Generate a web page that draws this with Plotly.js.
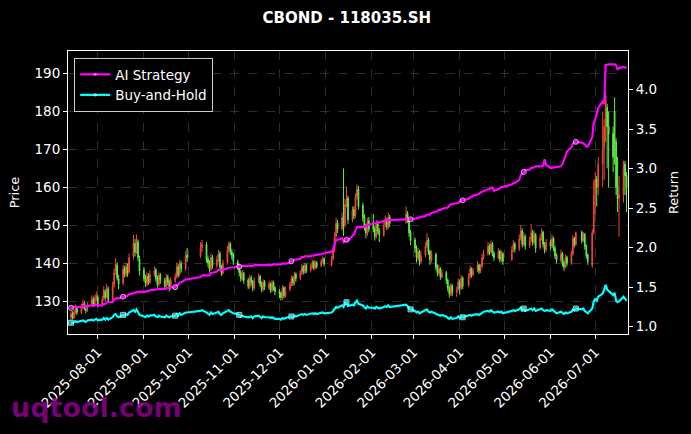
<!DOCTYPE html>
<html>
<head>
<meta charset="utf-8">
<script src="https://cdn.plot.ly/plotly-3.0.1.min.js"></script>
<style>html,body{margin:0;padding:0;background:#000;}#chart{width:691px;height:434px;}</style>
</head>
<body>
<div id="chart"></div>
<script>
// ---- data ----
const startDate = '2025-07-14';
const endDate = '2026-07-22';
const holidays = ['2025-10-01','2025-10-02','2025-10-03','2025-10-06','2025-10-07','2025-10-08',
  '2026-01-01','2026-01-02','2026-02-16','2026-02-17','2026-02-18','2026-02-19','2026-02-20','2026-02-23',
  '2026-04-06','2026-05-01','2026-05-04','2026-05-05','2026-06-19'];

const openP = [
125.8,126.8,125.6,127.0,128.3,127.0,128.4,129.5,128.0,127.8,129.2,130.6,129.0,130.5,
131.2,129.2,130.8,132.6,131.2,133.2,130.5,134.2,137.8,139.5,136.0,134.8,138.6,137.0,139.2,137.8,141.8,145.2,143.2,145.6,141.2,
138.2,136.2,134.6,136.8,135.0,137.2,138.2,136.2,134.4,137.0,135.6,133.8,136.4,135.2,133.6,135.4,136.6,139.2,137.2,140.0,138.6,142.2,
142.0,144.2,145.0,141.2,140.2,138.4,141.6,139.4,141.2,142.6,139.0,137.4,140.2,143.6,145.2,143.0,142.2,
140.4,139.2,137.6,135.8,137.4,135.6,133.8,136.2,135.2,133.4,135.4,136.6,134.6,133.0,135.2,133.6,134.6,132.8,135.0,133.6,
132.6,132.2,130.8,133.6,131.4,133.2,134.4,136.2,134.6,137.2,136.0,137.6,139.2,137.6,139.6,138.2,139.0,140.4,138.8,140.2,139.4,140.6,141.2,
139.6,141.2,143.6,147.2,150.6,149.2,152.4,150.2,155.6,157.2,151.4,154.2,152.6,157.6,159.6,155.2,152.2,149.6,147.8,151.2,
150.8,149.2,147.2,150.6,148.6,147.4,150.2,151.6,149.4,152.2,151.0,153.2,151.6,148.2,
146.2,144.2,141.4,143.2,140.4,142.2,144.6,146.2,143.2,140.8,142.4,139.2,137.4,138.6,136.4,137.6,135.6,133.6,131.8,134.2,132.4,133.2,
135.2,133.4,136.2,134.2,136.6,138.6,137.0,138.2,139.6,138.0,139.2,141.6,142.6,144.6,143.0,145.2,142.6,141.4,143.2,140.8,142.6,
141.0,143.6,145.2,143.8,146.6,148.6,145.0,147.2,144.6,146.2,148.2,145.4,147.6,144.2,146.6,148.2,145.0,143.6,
145.6,144.6,146.6,144.0,142.2,140.8,142.6,140.2,139.0,141.6,140.0,142.6,146.6,145.0,148.2,146.0,147.6,144.6,142.2,139.4,148.2,
158.2,162.2,160.2,166.2,170.2,176.2,181.0,176.2,174.2,180.0,172.0,160.2,157.2,158.2,166.2,163.2];

const highP = [
127.5,127.4,128.0,129.2,128.8,129.4,130.5,130.1,128.9,129.8,131.6,131.2,131.8,132.6,
131.8,131.4,134.0,133.2,134.6,133.9,135.2,138.6,141.4,140.2,137.0,139.6,139.4,140.2,140.0,142.6,147.5,146.4,147.6,146.3,142.0,
139.0,137.0,137.6,137.4,138.2,139.2,138.8,136.8,137.6,137.5,136.2,137.2,137.0,135.8,136.4,137.4,140.2,139.8,141.0,140.6,143.2,144.0,
145.6,146.2,145.6,142.0,140.8,142.6,142.2,142.0,143.6,143.2,139.6,141.0,144.6,145.8,145.6,143.8,142.8,
141.0,139.8,138.2,138.2,137.8,136.2,137.0,136.8,135.6,136.4,137.4,137.0,135.2,135.8,135.6,135.4,135.0,135.6,135.4,134.0,
133.2,132.6,134.2,134.0,133.8,135.2,136.8,136.6,137.8,137.6,138.2,139.8,139.6,140.2,140.0,139.8,141.0,140.8,140.8,140.6,141.2,141.8,141.6,
142.0,144.4,148.2,152.0,151.4,153.4,165.0,157.0,160.2,157.8,155.0,155.0,158.4,160.8,160.4,156.0,153.0,150.4,152.0,152.2,
153.0,149.8,151.4,151.2,149.2,151.0,152.6,152.0,153.4,152.8,155.0,153.8,152.0,148.8,
146.8,144.8,144.0,143.6,143.2,145.6,148.0,146.8,143.6,143.4,142.8,139.8,139.6,139.0,138.4,138.0,136.0,134.2,134.8,134.6,133.8,136.0,
135.8,137.0,136.6,137.4,139.4,139.0,138.8,140.6,140.0,139.8,142.6,143.6,145.6,145.2,146.0,145.6,143.2,144.0,143.6,143.4,143.0,
144.6,146.2,145.6,147.6,150.0,149.2,148.2,147.6,147.0,150.4,148.8,148.6,148.0,147.6,149.2,148.6,145.6,146.4,
146.2,147.6,147.0,144.6,142.6,143.6,143.0,140.8,142.4,142.0,143.4,147.4,147.0,148.4,148.6,148.2,148.0,145.0,142.6,149.0,162.0,
164.0,163.0,168.0,180.0,178.0,185.0,182.0,180.0,176.0,183.7,173.0,168.0,163.0,167.0,167.0,164.0];

const lowP = [
124.9,125.2,125.3,126.5,126.4,126.6,127.9,127.6,126.8,127.2,128.7,128.5,128.6,129.9,
128.4,128.6,130.2,130.1,130.8,129.5,130.0,133.6,137.0,135.5,133.2,134.2,136.3,136.5,136.4,137.2,141.0,141.8,142.5,140.6,136.8,
135.2,133.8,134.0,134.3,134.6,136.5,135.2,133.6,133.9,134.6,133.1,133.4,134.2,132.6,133.0,134.8,136.0,136.2,136.6,137.6,138.0,140.4,
141.4,143.0,140.2,139.0,137.6,138.0,138.6,138.8,140.4,138.2,136.6,137.0,139.6,142.8,142.2,141.0,139.6,
138.2,136.6,135.2,135.4,134.6,133.2,133.4,134.2,132.6,133.0,134.8,133.8,132.4,132.6,133.0,133.0,132.2,132.4,132.8,131.6,
130.8,130.2,130.4,130.8,131.0,132.6,134.0,134.0,134.2,135.2,135.6,137.0,137.0,137.2,137.4,137.6,138.6,138.2,138.4,138.6,139.0,140.0,139.2,
139.2,140.8,143.0,146.6,148.0,148.6,147.2,149.4,154.8,150.4,150.8,151.6,152.0,156.8,154.2,151.0,148.6,146.6,147.2,148.2,
148.2,146.0,146.6,147.6,145.6,147.0,149.6,148.8,149.0,149.6,150.4,150.6,147.0,144.8,
142.8,140.2,140.8,139.4,139.8,141.6,144.0,142.2,139.6,140.2,138.2,136.6,137.0,135.6,136.0,134.6,132.6,131.0,131.4,131.4,131.2,132.8,
131.8,133.0,133.2,133.8,136.0,136.2,136.6,137.6,137.2,137.4,138.8,141.0,142.0,142.2,142.6,141.8,140.6,141.0,140.2,140.4,139.6,
140.6,143.0,142.8,143.2,146.0,144.2,144.6,143.6,144.0,145.6,144.6,145.0,142.8,143.6,146.0,144.2,142.6,143.0,
143.6,144.0,143.2,141.2,140.0,140.2,139.2,138.0,138.6,139.2,139.6,142.0,144.2,144.6,145.2,145.6,143.6,141.2,139.6,138.8,147.6,
153.0,155.0,158.0,160.0,162.0,172.0,165.0,160.0,164.0,166.0,158.0,153.5,147.0,156.0,158.0,153.5];

const closeP = [
126.5,125.8,127.2,128.0,127.1,128.5,129.3,128.2,127.6,129.0,130.4,129.1,130.8,131.5,
129.0,130.5,132.8,131.0,133.5,130.2,134.0,137.5,139.8,136.2,134.5,138.5,137.2,139.0,137.5,141.5,145.5,143.0,146.0,141.5,138.0,
136.0,134.8,136.5,135.2,137.0,138.0,136.0,134.5,136.8,135.5,134.0,136.2,135.0,133.8,135.5,136.5,139.0,137.0,139.8,138.5,142.0,141.5,
144.0,145.0,141.0,140.0,138.5,141.5,139.5,141.0,142.5,139.0,137.5,140.0,143.5,145.0,143.0,142.0,140.5,
139.0,137.5,136.0,137.2,135.5,134.0,136.0,135.0,133.5,135.5,136.5,134.5,133.2,135.0,133.8,134.5,133.0,134.8,133.5,132.5,
132.0,131.0,133.5,131.5,133.0,134.5,136.0,134.8,137.0,136.0,137.5,139.0,137.8,139.5,138.0,139.0,140.2,138.8,140.0,139.2,140.5,141.0,139.8,
141.0,143.5,147.0,150.5,149.0,152.0,150.0,155.5,157.0,151.5,154.0,152.5,157.5,159.5,155.0,152.0,149.5,148.0,151.0,149.0,
149.0,147.0,150.5,148.5,147.5,150.0,151.5,149.5,152.0,150.5,153.0,151.5,148.0,146.0,
144.0,141.5,143.0,140.5,142.0,144.5,146.0,143.0,141.0,142.5,139.0,137.5,138.5,136.5,137.5,135.5,133.5,132.0,134.0,132.5,133.0,135.0,
133.5,136.0,134.0,136.5,138.5,137.0,138.0,139.5,138.0,139.0,141.5,142.5,144.5,143.0,145.0,142.5,141.5,143.0,141.0,142.5,140.5,
143.5,145.0,143.8,146.5,148.5,145.0,147.0,144.5,146.0,148.0,145.5,147.5,144.0,146.5,148.0,145.0,143.5,145.5,
144.5,146.5,144.0,142.0,140.8,142.5,140.0,139.0,141.5,140.0,142.5,146.5,145.0,148.0,146.0,147.5,144.5,142.0,140.5,148.0,158.0,
162.0,160.0,166.0,170.0,176.0,184.0,176.0,174.0,168.0,172.0,160.0,157.0,158.0,166.0,163.0,160.0];

const aiReturn = [
1.24,1.24,1.25,1.26,1.25,1.25,1.26,1.26,1.26,1.26,1.27,1.27,1.27,1.28,
1.27,1.27,1.29,1.29,1.31,1.31,1.31,1.34,1.36,1.36,1.36,1.38,1.38,1.39,1.39,1.41,1.43,1.43,1.44,1.44,1.44,
1.44,1.44,1.45,1.45,1.46,1.47,1.47,1.47,1.48,1.48,1.48,1.49,1.49,1.49,1.50,1.50,1.53,1.53,1.56,1.56,1.60,1.60,
1.63,1.65,1.65,1.65,1.65,1.68,1.68,1.70,1.72,1.72,1.72,1.72,1.74,1.75,1.75,1.75,1.75,
1.76,1.76,1.76,1.77,1.77,1.77,1.77,1.77,1.77,1.78,1.78,1.78,1.78,1.78,1.78,1.78,1.78,1.78,1.79,1.79,
1.79,1.79,1.80,1.80,1.80,1.81,1.83,1.83,1.85,1.85,1.86,1.88,1.88,1.89,1.89,1.89,1.90,1.90,1.91,1.91,1.92,1.93,1.93,
1.95,1.98,2.04,2.10,2.10,2.12,2.07,2.08,2.10,2.09,2.16,2.17,2.22,2.26,2.26,2.26,2.27,2.27,2.29,2.29,
2.31,2.31,2.31,2.32,2.32,2.34,2.35,2.35,2.35,2.35,2.36,2.36,2.36,2.36,
2.37,2.37,2.38,2.38,2.39,2.40,2.42,2.42,2.42,2.44,2.46,2.46,2.48,2.48,2.49,2.51,2.51,2.53,2.55,2.55,2.56,2.57,
2.58,2.60,2.60,2.62,2.64,2.64,2.66,2.68,2.68,2.70,2.71,2.72,2.74,2.74,2.76,2.76,2.72,2.74,2.76,2.77,2.77,
2.80,2.82,2.82,2.86,2.92,2.94,2.96,2.98,2.99,3.01,3.01,3.02,3.03,3.03,3.03,3.04,3.12,3.05,
3.01,3.01,3.02,3.02,3.02,3.03,3.06,3.10,3.16,3.22,3.27,3.32,3.33,3.34,3.33,3.32,3.31,3.28,3.28,3.40,3.58,
3.62,3.68,3.77,3.85,3.82,4.31,4.32,4.32,4.32,4.32,4.31,4.26,4.27,4.29,4.28,4.28];

const holdReturn = [
1.05,1.05,1.06,1.07,1.06,1.07,1.08,1.07,1.06,1.08,1.09,1.08,1.09,1.10,
1.08,1.09,1.11,1.09,1.11,1.09,1.12,1.15,1.16,1.13,1.12,1.15,1.14,1.16,1.15,1.18,1.21,1.19,1.22,1.18,1.15,
1.13,1.12,1.14,1.13,1.14,1.15,1.13,1.12,1.14,1.13,1.12,1.14,1.13,1.12,1.13,1.14,1.16,1.14,1.17,1.15,1.18,1.18,
1.20,1.21,1.18,1.17,1.15,1.18,1.16,1.18,1.19,1.16,1.15,1.17,1.20,1.21,1.19,1.18,1.17,
1.16,1.15,1.13,1.14,1.13,1.12,1.13,1.13,1.11,1.13,1.14,1.12,1.11,1.13,1.12,1.12,1.11,1.12,1.11,1.10,
1.10,1.09,1.11,1.10,1.11,1.12,1.13,1.12,1.14,1.13,1.15,1.16,1.15,1.16,1.15,1.16,1.17,1.16,1.17,1.16,1.17,1.18,1.17,
1.18,1.20,1.23,1.25,1.24,1.27,1.25,1.30,1.31,1.26,1.28,1.27,1.31,1.33,1.29,1.27,1.25,1.23,1.26,1.24,
1.24,1.23,1.25,1.24,1.23,1.25,1.26,1.25,1.27,1.25,1.28,1.26,1.23,1.22,
1.20,1.18,1.19,1.17,1.18,1.20,1.22,1.19,1.18,1.19,1.16,1.15,1.15,1.14,1.15,1.13,1.11,1.10,1.12,1.10,1.11,1.13,
1.11,1.13,1.12,1.14,1.15,1.14,1.15,1.16,1.15,1.16,1.18,1.19,1.20,1.19,1.21,1.19,1.18,1.19,1.18,1.19,1.17,
1.20,1.21,1.20,1.22,1.24,1.21,1.23,1.20,1.22,1.23,1.21,1.23,1.20,1.22,1.23,1.21,1.20,1.21,
1.20,1.22,1.20,1.18,1.17,1.19,1.17,1.16,1.18,1.17,1.19,1.22,1.21,1.23,1.22,1.23,1.20,1.18,1.17,1.23,1.32,
1.35,1.33,1.38,1.42,1.47,1.53,1.47,1.45,1.40,1.43,1.33,1.31,1.32,1.38,1.36,1.33];

const monthTicks = ['2025-08-01','2025-09-01','2025-10-01','2025-11-01','2025-12-01','2026-01-01',
  '2026-02-01','2026-03-01','2026-04-01','2026-05-01','2026-06-01','2026-07-01'];
const returnTicks = [1.0,1.5,2.0,2.5,3.0,3.5,4.0];

// ---- trading calendar (weekdays minus exchange holidays) ----
function tradingDays(a, b, skip) {
  const out = [];
  const hs = new Set(skip);
  let t = Date.parse(a + 'T00:00:00Z');
  const e = Date.parse(b + 'T00:00:00Z');
  while (t <= e) {
    const d = new Date(t);
    const wd = d.getUTCDay();
    const s = d.toISOString().slice(0, 10);
    if (wd !== 0 && wd !== 6 && !hs.has(s)) out.push(s);
    t += 86400000;
  }
  return out;
}
const dates = tradingDays(startDate, endDate, holidays);

const markerSizes = dates.map((_, i) => (i % 25 === 0 ? 5 : 0));
const FONT = 'DejaVu Sans, sans-serif';

const traces = [
  {
    type: 'candlestick', x: dates, open: openP, high: highP, low: lowP, close: closeP,
    xaxis: 'x', yaxis: 'y', showlegend: false, hoverinfo: 'skip',
    increasing: {line: {color: '#f2473a', width: 1}, fillcolor: '#f2473a'},
    decreasing: {line: {color: '#5cf040', width: 1}, fillcolor: '#5cf040'},
    whiskerwidth: 0
  },
  {
    type: 'scatter', mode: 'lines+markers', name: 'AI Strategy', x: dates, y: aiReturn,
    yaxis: 'y2', line: {color: '#ff00ff', width: 2.2},
    marker: {symbol: 'circle', size: markerSizes, color: '#ff00ff'}
  },
  {
    type: 'scatter', mode: 'lines+markers', name: 'Buy-and-Hold', x: dates, y: holdReturn,
    yaxis: 'y2', line: {color: '#00ffff', width: 2.2},
    marker: {symbol: 'square', size: markerSizes, color: '#00ffff'}
  }
];

const axisCommon = {
  showline: true, linecolor: '#ffffff', linewidth: 1, mirror: true,
  ticks: 'outside', ticklen: 4, tickcolor: '#ffffff', tickwidth: 1,
  tickfont: {family: FONT, size: 13.5, color: '#ffffff'},
  zeroline: false
};

const layout = {
  width: 691, height: 434,
  paper_bgcolor: '#000000', plot_bgcolor: '#000000',
  margin: {l: 68, r: 63, t: 51, b: 100, pad: 0},
  font: {family: FONT, color: '#ffffff'},
  title: {text: '<b>CBOND - 118035.SH</b>', x: 0.502, xref: 'container', xanchor: 'center',
    y: 0.958, yref: 'container', yanchor: 'middle', font: {family: FONT, size: 15, color: '#ffffff'}},
  showlegend: true,
  legend: {x: 0.011, y: 0.975, xanchor: 'left', yanchor: 'top', bgcolor: 'rgba(0,0,0,0.85)',
    bordercolor: '#cccccc', borderwidth: 1, font: {family: FONT, size: 13.5, color: '#ffffff'},
    tracegroupgap: 0, itemwidth: 30},
  xaxis: Object.assign({}, axisCommon, {
    type: 'date', range: ['2025-07-12', '2026-07-23'],
    tickmode: 'array', tickvals: monthTicks, ticktext: monthTicks, tickangle: -45,
    showgrid: true, gridcolor: '#4a4a4a', griddash: 'dash', gridwidth: 0.6,
    rangeslider: {visible: false}
  }),
  yaxis: Object.assign({}, axisCommon, {
    range: [121.4, 195.9], tickmode: 'linear', tick0: 130, dtick: 10,
    showgrid: true, gridcolor: '#4a4a4a', griddash: 'dash', gridwidth: 0.6,
    title: {text: 'Price', font: {family: FONT, size: 13, color: '#ffffff'}, standoff: 11},
    automargin: false
  }),
  yaxis2: Object.assign({}, axisCommon, {
    overlaying: 'y', side: 'right', range: [0.908, 4.49],
    tickmode: 'array', tickvals: returnTicks, ticktext: returnTicks.map(v => v.toFixed(1)),
    showgrid: false, mirror: false,
    title: {text: 'Return', font: {family: FONT, size: 13, color: '#ffffff'}, standoff: 12},
    automargin: false
  }),
  annotations: [{
    text: '<b>uqtool.com</b>', xref: 'paper', yref: 'paper', x: -0.105, y: -0.258,
    xanchor: 'left', yanchor: 'middle', showarrow: false,
    font: {family: FONT, size: 27, color: 'rgba(140,0,140,0.85)'}
  }]
};

Plotly.newPlot('chart', traces, layout, {displayModeBar: false, staticPlot: true});
</script>
</body>
</html>
